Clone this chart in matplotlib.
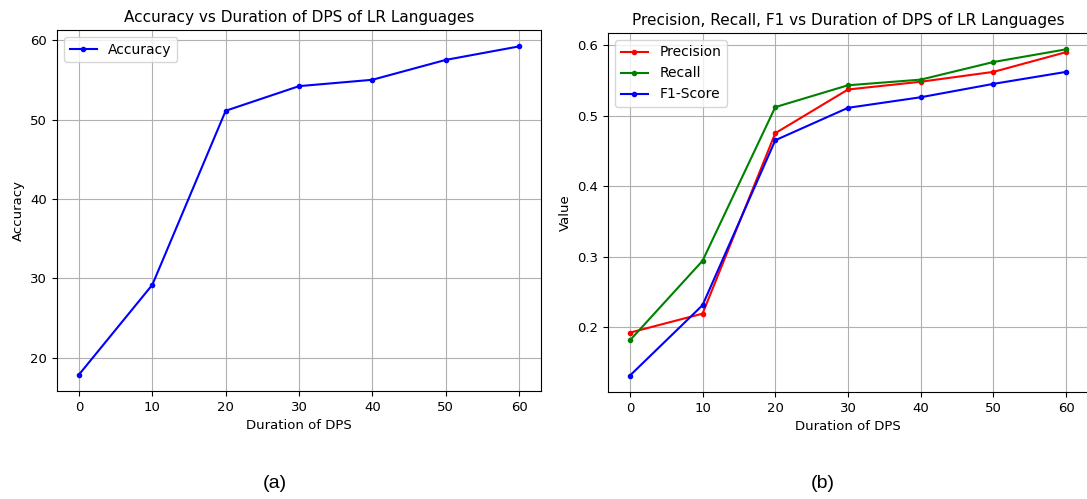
import matplotlib
matplotlib.use("Agg")
import matplotlib.pyplot as plt

durations = [0, 10, 20, 30, 40, 50, 60]
accuracy = [17.9, 29.2, 51.1, 54.2, 55.0, 57.5, 59.2]
precision = [0.192, 0.219, 0.475, 0.537, 0.548, 0.562, 0.590]
recall = [0.181, 0.294, 0.512, 0.543, 0.551, 0.576, 0.594]
f1_score = [0.131, 0.231, 0.465, 0.511, 0.526, 0.545, 0.562]

W, H = 1087, 499
fig = plt.figure(figsize=(W / 100, H / 100), dpi=100)

fs_tick = 9.5
fs_label = 9.5
fs_legend = 10
fs_title = 11

ax1 = fig.add_axes([57 / W, 1 - 391 / H, 484 / W, 361 / H])
ax1.plot(durations, accuracy, color="blue", marker=".", markersize=6, linewidth=1.5, label="Accuracy")
ax1.set_title("Accuracy vs Duration of DPS of LR Languages", fontsize=fs_title)
ax1.set_xlabel("Duration of DPS", fontsize=fs_label)
ax1.set_ylabel("Accuracy", fontsize=fs_label)
ax1.grid(True)
ax1.tick_params(labelsize=fs_tick)
ax1.legend(loc="upper left", fontsize=fs_legend)

ax2 = fig.add_axes([608 / W, 1 - 392 / H, 480 / W, 359 / H])
ax2.plot(durations, precision, color="red", marker=".", markersize=6, linewidth=1.5, label="Precision")
ax2.plot(durations, recall, color="green", marker=".", markersize=6, linewidth=1.5, label="Recall")
ax2.plot(durations, f1_score, color="blue", marker=".", markersize=6, linewidth=1.5, label="F1-Score")
ax2.set_title("Precision, Recall, F1 vs Duration of DPS of LR Languages", fontsize=fs_title)
ax2.set_xlabel("Duration of DPS", fontsize=fs_label)
ax2.set_ylabel("Value", fontsize=fs_label)
ax2.grid(True)
ax2.tick_params(labelsize=fs_tick)
ax2.legend(loc="upper left", fontsize=fs_legend)

fig.text(275 / W, 1 - 484 / H, "(a)", ha="center", va="center", fontsize=14, family="Liberation Sans")
fig.text(823 / W, 1 - 484 / H, "(b)", ha="center", va="center", fontsize=14, family="Liberation Sans")

fig.savefig("out.png", dpi=100)
